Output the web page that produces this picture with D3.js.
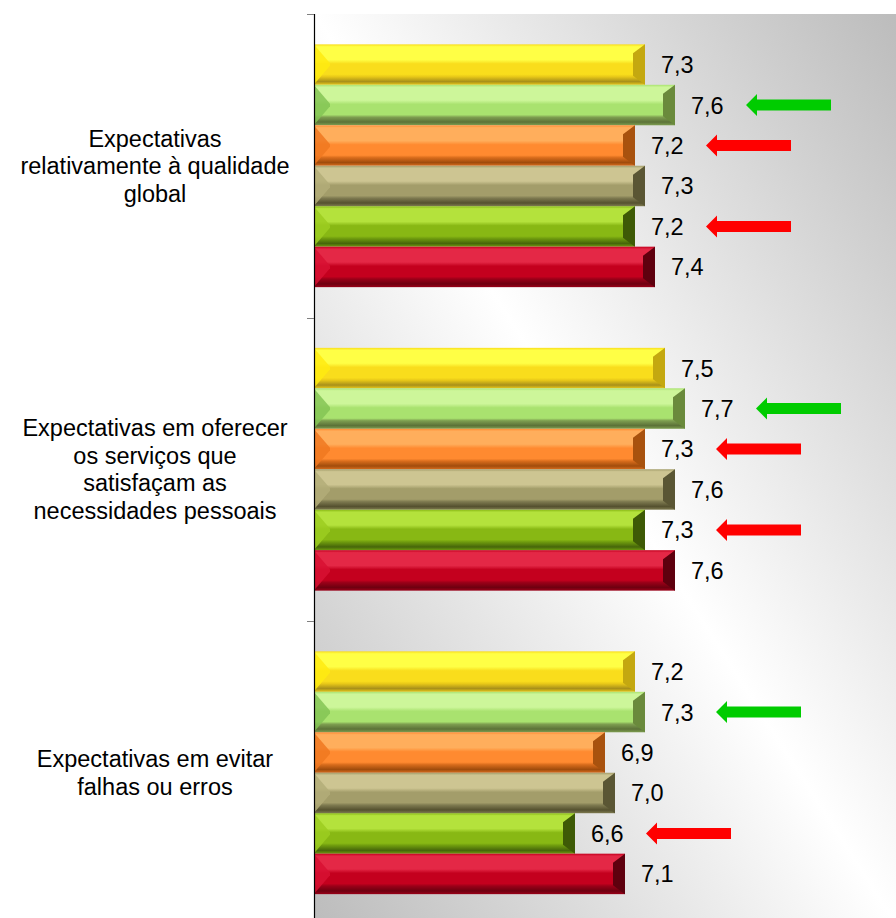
<!DOCTYPE html>
<html>
<head>
<meta charset="utf-8">
<script src="https://cdn.jsdelivr.net/npm/d3@7"></script>
<style>
  html, body { margin: 0; padding: 0; background: #ffffff; }
  svg { display: block; font-family: "Liberation Sans", Arial, sans-serif; }
</style>
</head>
<body>
<svg id="chart" width="896" height="918"></svg>
<script>
// Categories (top to bottom), each label split into its lines
const categories = ["qualidade", "servicos", "falhas"];
const categoryLines = [
  ["Expectativas", "relativamente à qualidade", "global"],
  ["Expectativas em oferecer", "os serviços que", "satisfaçam as", "necessidades pessoais"],
  ["Expectativas em evitar", "falhas ou erros"]
];

// Series, listed in drawing order from the top of each group
const seriesKeys = ["s1", "s2", "s3", "s4", "s5", "s6"];
const s1Values = [7.3, 7.5, 7.2]; // yellow
const s2Values = [7.6, 7.7, 7.3]; // light green
const s3Values = [7.2, 7.3, 6.9]; // orange
const s4Values = [7.3, 7.6, 7.0]; // khaki
const s5Values = [7.2, 7.3, 6.6]; // olive green
const s6Values = [7.4, 7.6, 7.1]; // crimson
const seriesValues = [s1Values, s2Values, s3Values, s4Values, s5Values, s6Values];

// Trend arrows next to some values: +1 = up (green), -1 = down (red)
const arrowCategory = [0, 0, 0, 1, 1, 1, 2, 2];
const arrowSeries   = [1, 2, 4, 1, 2, 4, 1, 4];
const arrowTrend    = [1, -1, -1, 1, -1, -1, 1, -1];

// Value axis range
const valueDomain = [4, 10];

// Bevelled bar palette per series: top highlight, face, lower shade, bottom rim, left bevel, right bevel
const palette = [
  { top: "#ffff45", face: "#f9dd1c", shade: "#e8c818", rim: "#a8901a", left: "#ffeb10", right: "#c4a810" },
  { top: "#cdf69a", face: "#a9e26f", shade: "#7e9e50", rim: "#5c7238", left: "#84c455", right: "#6a8a3c" },
  { top: "#ffae5c", face: "#ff8a30", shade: "#d86c1c", rim: "#a04c0c", left: "#f07820", right: "#a8520e" },
  { top: "#cdc592", face: "#a39d6a", shade: "#7e7a50", rim: "#55512f", left: "#b3ad78", right: "#5a5634" },
  { top: "#b4e23c", face: "#88b814", shade: "#6e9a0e", rim: "#46660a", left: "#9ccc20", right: "#3e5a06" },
  { top: "#e42846", face: "#c4001e", shade: "#9a0018", rim: "#6e0010", left: "#d81032", right: "#5e000e" }
];

const W = 896, H = 918;
const plotLeft = 315, plotTop = 14, plotBottom = 924.5;

const svg = d3.select("#chart");
const defs = svg.append("defs");

// Diagonal grey-white-grey backdrop of the plot area
const bg = defs.append("linearGradient")
  .attr("id", "plotBg")
  .attr("x1", 0).attr("y1", 1).attr("x2", 1).attr("y2", 0);
bg.append("stop").attr("offset", "0%").attr("stop-color", "#bcbcbc");
bg.append("stop").attr("offset", "50%").attr("stop-color", "#ffffff");
bg.append("stop").attr("offset", "100%").attr("stop-color", "#bcbcbc");

// Vertical bevel gradient for each series
palette.forEach((p, i) => {
  const g = defs.append("linearGradient")
    .attr("id", "bar" + i)
    .attr("x1", 0).attr("y1", 0).attr("x2", 0).attr("y2", 1);
  const stops = [
    [0, p.face], [0.06, p.top], [0.38, p.top], [0.48, p.face],
    [0.74, p.face], [0.80, p.shade], [0.92, p.rim], [1, p.shade]
  ];
  stops.forEach(s => g.append("stop").attr("offset", s[0]).attr("stop-color", s[1]));
});

// Scales
const x = d3.scaleLinear().domain(valueDomain).range([plotLeft, plotLeft + 600]);
const y0 = d3.scaleBand().domain(categories).range([plotTop, plotBottom]).padding(0);
const y1 = d3.scaleBand().domain(seriesKeys).range([0, y0.bandwidth()])
  .paddingInner(0).paddingOuter(0.75);

svg.append("rect")
  .attr("x", plotLeft).attr("y", plotTop)
  .attr("width", W - plotLeft).attr("height", plotBottom - plotTop)
  .attr("fill", "url(#plotBg)");

// Flatten into bar records
const bars = [];
categories.forEach((c, ci) => {
  seriesKeys.forEach((s, si) => {
    bars.push({ c, ci, s, si, v: seriesValues[si][ci] });
  });
});

const fmt = v => d3.format(".1f")(v).replace(".", ",");

const barG = svg.append("g").selectAll("g.bar")
  .data(bars).join("g").attr("class", "bar")
  .attr("transform", d => `translate(0,${y0(d.c) + y1(d.s)})`);

const bh = y1.bandwidth();

barG.append("rect")
  .attr("x", x(valueDomain[0]))
  .attr("y", 0)
  .attr("width", d => x(d.v) - x(valueDomain[0]))
  .attr("height", bh)
  .attr("fill", d => `url(#bar${d.si})`);

// Left bevel: triangle pointing into the bar
barG.append("path")
  .attr("d", d => {
    const a = x(valueDomain[0]);
    return `M${a},${1.5}L${a + 15},${bh * 0.47}L${a + 15},${bh * 0.53}L${a},${bh - 1.5}Z`;
  })
  .attr("fill", d => palette[d.si].left)
  .attr("opacity", 0.85);

// Right bevel: darker slanted end
barG.append("path")
  .attr("d", d => {
    const b = x(d.v);
    return `M${b},0L${b - 12},${9}L${b - 12},${bh - 9}L${b},${bh}Z`;
  })
  .attr("fill", d => palette[d.si].right);

// Value labels
barG.append("text")
  .attr("x", d => x(d.v) + 16)
  .attr("y", bh / 2)
  .attr("dy", "0.36em")
  .attr("font-size", 23.5)
  .attr("fill", "#000")
  .text(d => fmt(d.v));

// Trend arrows
const arrows = arrowCategory.map((ci, i) => ({
  ci, si: arrowSeries[i], up: arrowTrend[i] > 0,
  v: seriesValues[arrowSeries[i]][ci]
}));
svg.append("g").selectAll("path")
  .data(arrows).join("path")
  .attr("transform", d => `translate(${x(d.v) + 71},${y0(categories[d.ci]) + y1(seriesKeys[d.si]) + bh / 2})`)
  .attr("d", "M0,0L11,-11L11,-5.5L85,-5.5L85,5.5L11,5.5L11,11Z")
  .attr("fill", d => d.up ? "#00cc00" : "#ff0000");

// Category axis line and tick marks at band boundaries
const bounds = categories.map(c => y0(c)).concat([plotBottom]);
svg.append("line")
  .attr("x1", plotLeft - 0.5).attr("x2", plotLeft - 0.5)
  .attr("y1", plotTop).attr("y2", plotBottom)
  .attr("stroke", "#000").attr("stroke-width", 1.2);
svg.append("g").selectAll("line")
  .data(bounds).join("line")
  .attr("x1", plotLeft - 8).attr("x2", plotLeft - 1)
  .attr("y1", d => Math.round(d) + 0.5).attr("y2", d => Math.round(d) + 0.5)
  .attr("stroke", "#808080").attr("stroke-width", 1);

// Category labels, centred on each band
const lineH = 27.5;
svg.append("g").selectAll("text")
  .data(categories).join("text")
  .attr("text-anchor", "middle")
  .attr("font-size", 23.5)
  .attr("fill", "#000")
  .each(function (c, ci) {
    const lines = categoryLines[ci];
    const mid = y0(c) + y0.bandwidth() / 2;
    d3.select(this).selectAll("tspan")
      .data(lines).join("tspan")
      .attr("x", 155)
      .attr("y", (l, i) => mid + (i - (lines.length - 1) / 2) * lineH)
      .attr("dy", "0.36em")
      .text(l => l);
  });
</script>
</body>
</html>
